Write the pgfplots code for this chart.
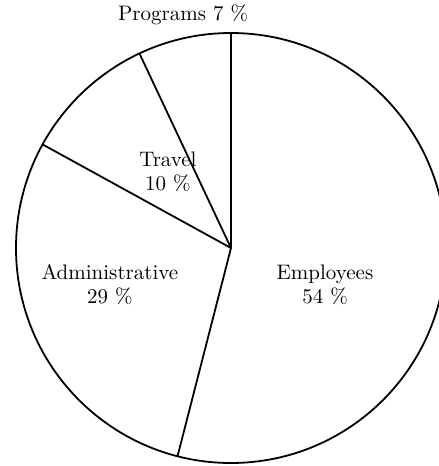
\documentclass[border=0pt]{standalone}
\usepackage{pgfplots}
\pgfplotsset{compat=1.18}
\usepgfplotslibrary{polar}
\begin{document}
\begin{tikzpicture}
  % page frame: 1 px of the reference = 0.5pt, centre of the pie at (0,0)
  \path[use as bounding box] (-115.5pt,-109pt) rectangle (104pt,124pt);
  \begin{polaraxis}[
      at={(0,0)}, anchor=origin,
      scale only axis, width=215pt, height=215pt,
      xmin=0, xmax=360, ymin=0, ymax=1,
      xtick=\empty, ytick=\empty,
      separate axis lines,
      x axis line style={line width=0.9pt},
      y axis line style={draw=none},
      clip=false,
      font=\fontsize{10.5}{12}\selectfont,
    ]
    % slice borders, angles from 90 deg clockwise:
    % Programs 7, Travel 10, Administrative 29, Employees 54
    \addplot[black, line width=0.9pt] coordinates {(90,0) (90,1)};
    \addplot[black, line width=0.9pt] coordinates {(255.6,0) (255.6,1)};
    \addplot[black, line width=0.9pt] coordinates {(151.2,0) (151.2,1)};
    \addplot[black, line width=0.9pt] coordinates {(115.2,0) (115.2,1)};
    \node[align=center] at (axis cs:-21.5,0.47) {Employees\\54 \%};
    \node[align=center] at (axis cs:197,0.589) {Administrative\\29 \%};
    \node[align=center] at (axis cs:129.7,0.459) {Travel\\10 \%};
    \node at (axis cs:101.6,1.106) {Programs 7 \%};
  \end{polaraxis}
\end{tikzpicture}
\end{document}
